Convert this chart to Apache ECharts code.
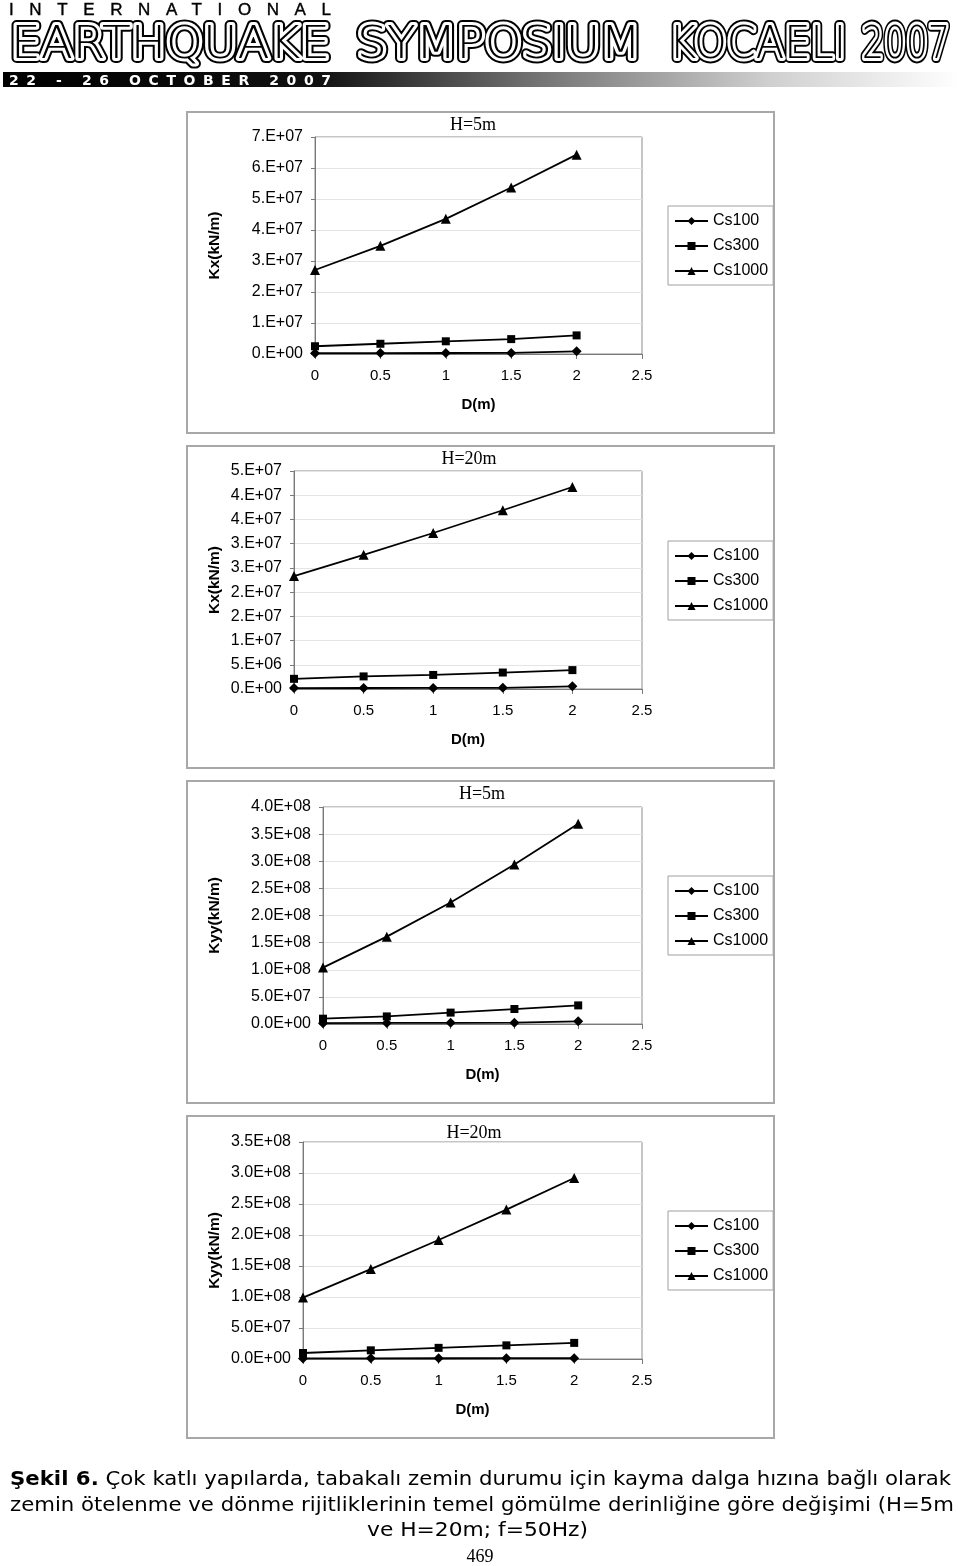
<!DOCTYPE html>
<html>
<head>
<meta charset="utf-8">
<script src="https://cdn.jsdelivr.net/npm/echarts@6/dist/echarts.min.js"></script>
<style>
  html, body { margin: 0; padding: 0; background: #fff; }
  body { width: 960px; height: 1566px; position: relative; overflow: hidden; }
  .frame { position: absolute; border: 2px solid #a8a8a8; box-sizing: border-box; background: #fff; }
  #chart { position: absolute; left: 0; top: 0; width: 960px; height: 1566px; z-index: 1; }
  #overlay { position: absolute; left: 0; top: 0; z-index: 2; pointer-events: none; }
</style>
</head>
<body>
<div class="frame" style="left:186px;top:111px;width:589px;height:323px;"></div>
<div class="frame" style="left:186px;top:445px;width:589px;height:324px;"></div>
<div class="frame" style="left:186px;top:780px;width:589px;height:324px;"></div>
<div class="frame" style="left:186px;top:1115px;width:589px;height:324px;"></div>
<div id="chart"></div>
<svg id="overlay" width="960" height="1566" xmlns="http://www.w3.org/2000/svg">
  <defs>
    <linearGradient id="bar" x1="0" y1="0" x2="1" y2="0">
      <stop offset="0" stop-color="#000"/>
      <stop offset="0.33" stop-color="#111"/>
      <stop offset="0.55" stop-color="#707070"/>
      <stop offset="0.8" stop-color="#cfcfcf"/>
      <stop offset="1" stop-color="#fff"/>
    </linearGradient>
  </defs>
  <text x="9" y="14.5" font-family="Liberation Sans" font-size="17" textLength="322" lengthAdjust="spacing" fill="#000" stroke="#000" stroke-width="0.4">INTERNATIONAL</text>
  <g font-family="DejaVu Sans" font-weight="200" font-size="45" stroke-linejoin="round">
    <g fill="#000" stroke="#000" stroke-width="10">
      <text x="11" y="58" textLength="319" lengthAdjust="spacingAndGlyphs">EARTHQUAKE</text>
      <text x="357" y="58" textLength="284" lengthAdjust="spacingAndGlyphs">SYMPOSIUM</text>
      <text x="669" y="58" textLength="177" lengthAdjust="spacingAndGlyphs">KOCAELI</text>
      <text x="862" y="58" textLength="88" lengthAdjust="spacingAndGlyphs">2007</text>
    </g>
    <g fill="#000" stroke="#fff" stroke-width="6" paint-order="stroke">
      <text x="11" y="58" textLength="319" lengthAdjust="spacingAndGlyphs">EARTHQUAKE</text>
      <text x="357" y="58" textLength="284" lengthAdjust="spacingAndGlyphs">SYMPOSIUM</text>
      <text x="669" y="58" textLength="177" lengthAdjust="spacingAndGlyphs">KOCAELI</text>
      <text x="862" y="58" textLength="88" lengthAdjust="spacingAndGlyphs">2007</text>
    </g>
  </g>
  <rect x="3" y="72" width="957" height="15" fill="url(#bar)"/>
  <text x="9" y="84.5" font-family="DejaVu Sans" font-weight="bold" font-size="14" textLength="322" lengthAdjust="spacing" fill="#fff">22 - 26 OCTOBER 2007</text>

  <g font-family="DejaVu Sans" font-size="20" fill="#000">
    <text x="10" y="1485" textLength="941" lengthAdjust="spacingAndGlyphs"><tspan font-weight="bold">Şekil 6.</tspan> Çok katlı yapılarda, tabakalı zemin durumu için kayma dalga hızına bağlı olarak</text>
    <text x="10" y="1511" textLength="944" lengthAdjust="spacingAndGlyphs">zemin ötelenme ve dönme rijitliklerinin temel gömülme derinliğine göre değişimi (H=5m</text>
    <text x="367" y="1536" textLength="221" lengthAdjust="spacingAndGlyphs">ve H=20m; f=50Hz)</text>
  </g>
  <text x="480" y="1562" font-family="Liberation Serif" font-size="18" text-anchor="middle" fill="#000">469</text>
</svg>
<script>
// ---------------- data ----------------
const dValues = [0, 0.5, 1, 1.5, 2];
const seriesNames = ['Cs100', 'Cs300', 'Cs1000'];
const xTickLabels = ['0', '0.5', '1', '1.5', '2', '2.5'];
const panelTitles = ['H=5m', 'H=20m', 'H=5m', 'H=20m'];
const yAxisNames = ['Kx(kN/m)', 'Kx(kN/m)', 'Kyy(kN/m)', 'Kyy(kN/m)'];

// Kx, H=5m
const kxH5Cs100  = [2.8e5, 3.0e5, 3.2e5, 3.4e5, 8.6e5];
const kxH5Cs300  = [2.5e6, 3.3e6, 4.1e6, 4.8e6, 6.0e6];
const kxH5Cs1000 = [2.71e7, 3.49e7, 4.36e7, 5.37e7, 6.43e7];
const kxH5Ticks  = ['0.E+00', '1.E+07', '2.E+07', '3.E+07', '4.E+07', '5.E+07', '6.E+07', '7.E+07'];

// Kx, H=20m
const kxH20Cs100  = [2.0e5, 2.1e5, 2.3e5, 2.4e5, 5.5e5];
const kxH20Cs300  = [2.1e6, 2.6e6, 2.9e6, 3.4e6, 3.9e6];
const kxH20Cs1000 = [2.33e7, 2.77e7, 3.22e7, 3.69e7, 4.17e7];
const kxH20Ticks  = ['0.E+00', '5.E+06', '1.E+07', '2.E+07', '2.E+07', '3.E+07', '3.E+07', '4.E+07', '4.E+07', '5.E+07'];

// Kyy, H=5m
const kyyH5Cs100  = [1.5e6, 2.0e6, 2.2e6, 2.4e6, 5.0e6];
const kyyH5Cs300  = [9.8e6, 1.4e7, 2.1e7, 2.76e7, 3.43e7];
const kyyH5Cs1000 = [1.04e8, 1.61e8, 2.24e8, 2.94e8, 3.69e8];
const kyyH5Ticks  = ['0.0E+00', '5.0E+07', '1.0E+08', '1.5E+08', '2.0E+08', '2.5E+08', '3.0E+08', '3.5E+08', '4.0E+08'];

// Kyy, H=20m
const kyyH20Cs100  = [1.0e6, 1.1e6, 1.2e6, 1.3e6, 1.4e6];
const kyyH20Cs300  = [9.7e6, 1.4e7, 1.8e7, 2.2e7, 2.6e7];
const kyyH20Cs1000 = [0.99e8, 1.45e8, 1.92e8, 2.41e8, 2.92e8];
const kyyH20Ticks  = ['0.0E+00', '5.0E+07', '1.0E+08', '1.5E+08', '2.0E+08', '2.5E+08', '3.0E+08', '3.5E+08'];

const panelSeries = [
  [kxH5Cs100, kxH5Cs300, kxH5Cs1000],
  [kxH20Cs100, kxH20Cs300, kxH20Cs1000],
  [kyyH5Cs100, kyyH5Cs300, kyyH5Cs1000],
  [kyyH20Cs100, kyyH20Cs300, kyyH20Cs1000]
];
const panelTicks = [kxH5Ticks, kxH20Ticks, kyyH5Ticks, kyyH20Ticks];
const panelIntervals = [1e7, 5e6, 5e7, 5e7];

// ---------------- layout / style ----------------
const layout = [
  { grid: { left: 315, top: 137, width: 327, height: 217 }, title: { x: 473, y: 116 }, legendTop: 206, yNameGap: 92 },
  { grid: { left: 294, top: 471, width: 348, height: 218 }, title: { x: 469, y: 450 }, legendTop: 541, yNameGap: 71 },
  { grid: { left: 323, top: 807, width: 319, height: 217 }, title: { x: 482, y: 785 }, legendTop: 876, yNameGap: 100 },
  { grid: { left: 303, top: 1142, width: 339, height: 217 }, title: { x: 474, y: 1124 }, legendTop: 1211, yNameGap: 80 }
];
const symbols = ['diamond', 'rect', 'triangle'];
const symbolSizes = [10, 8, 10];
const sans = 'Liberation Sans, Arial, sans-serif';
const axisGray = '#7a7a7a';

const option = {
  animation: false,
  backgroundColor: 'transparent',
  title: [], grid: [], xAxis: [], yAxis: [], legend: [], series: []
};

layout.forEach((L, p) => {
  option.grid.push(Object.assign({ show: true, borderColor: '#8c8c8c', borderWidth: 1, backgroundColor: 'transparent' }, L.grid));
  option.title.push({
    text: panelTitles[p], left: L.title.x, top: L.title.y, textAlign: 'center', padding: 0,
    textStyle: { fontFamily: 'Liberation Serif, Times New Roman, serif', fontSize: 18, fontWeight: 'normal', color: '#000' }
  });
  option.xAxis.push({
    type: 'value', gridIndex: p, min: 0, max: 2.5, interval: 0.5,
    name: 'D(m)', nameLocation: 'middle', nameGap: 43,
    nameTextStyle: { fontFamily: sans, fontSize: 15, fontWeight: 'bold', color: '#000' },
    axisLine: { show: true, onZero: false, lineStyle: { color: axisGray, width: 1 } },
    axisTick: { show: true, length: 5, lineStyle: { color: axisGray } },
    axisLabel: { margin: 14, fontFamily: sans, fontSize: 15, color: '#000',
      formatter: (v) => xTickLabels[Math.round(v / 0.5)] },
    splitLine: { show: false }
  });
  const ticks = panelTicks[p];
  const iv = panelIntervals[p];
  option.yAxis.push({
    type: 'value', gridIndex: p, min: 0, max: iv * (ticks.length - 1), interval: iv,
    name: yAxisNames[p], nameLocation: 'middle', nameGap: L.yNameGap,
    nameTextStyle: { fontFamily: sans, fontSize: 15.5, fontWeight: 'bold', color: '#000' },
    axisLine: { show: true, onZero: false, lineStyle: { color: axisGray, width: 1 } },
    axisTick: { show: true, length: 4, lineStyle: { color: axisGray } },
    axisLabel: { margin: 12, fontFamily: sans, fontSize: 16, color: '#000',
      formatter: (v) => ticks[Math.round(v / iv)] },
    splitLine: { show: true, lineStyle: { color: '#e4e4e4', width: 1 } }
  });
  option.legend.push({
    orient: 'vertical', left: 668, top: L.legendTop,
    data: seriesNames,
    itemWidth: 33, itemHeight: 10, itemGap: 9,
    padding: [7, 5, 6, 6],
    borderColor: '#a0a0a0', borderWidth: 1, backgroundColor: '#fff',
    textStyle: { fontFamily: sans, fontSize: 16, color: '#000' },
    selectedMode: false
  });
  panelSeries[p].forEach((vals, s) => {
    option.series.push({
      type: 'line', name: seriesNames[s], xAxisIndex: p, yAxisIndex: p,
      data: dValues.map((d, i) => [d, vals[i]]),
      symbol: symbols[s], symbolSize: symbolSizes[s], showSymbol: true,
      lineStyle: { color: '#000', width: 1.8 },
      itemStyle: { color: '#000' },
      emphasis: { disabled: true },
      z: 3 + s
    });
  });
});

const chart = echarts.init(document.getElementById('chart'), null, { renderer: 'canvas' });
chart.setOption(option);
</script>
</body>
</html>
